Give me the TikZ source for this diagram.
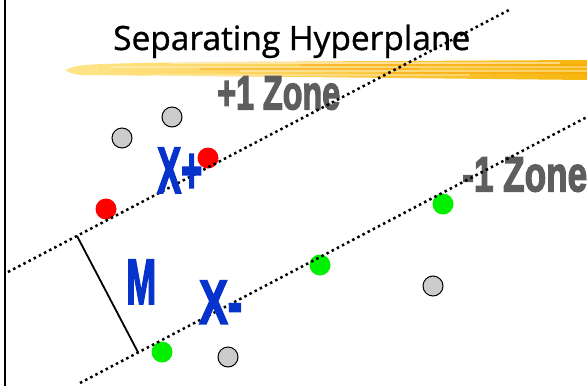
\documentclass[tikz,border=0pt]{standalone}
\usepackage{fontspec}
\setmainfont{Liberation Sans}
\newfontfamily\titlefont[FakeBold=1]{Open Sans}
\newfontfamily\heavyfont[FakeBold=3]{Liberation Sans Bold}
\usepackage{graphicx}
\usetikzlibrary{calc}
\definecolor{svmgray}{HTML}{5E5E5E}
\definecolor{svmblue}{HTML}{0533CC}
\definecolor{svmpt}{HTML}{CCCCCC}
\definecolor{svmred}{HTML}{FF0000}
\definecolor{svmgreen}{HTML}{00F000}
\definecolor{svmhl}{HTML}{F7B60E}
\definecolor{svmhlmid}{HTML}{FFD23C}
\definecolor{svmhllight}{HTML}{FFE58A}

\begin{document}
\begin{tikzpicture}[x=1pt,y=-1pt,line cap=butt,
  basept/.style={circle,inner sep=0pt,minimum size=21pt},
  greypt/.style={basept,draw=black,line width=1pt,fill=svmpt,minimum size=20pt},
  pospt/.style={basept,fill=svmred},
  negpt/.style={basept,fill=svmgreen},
  marginline/.style={line width=2.5pt,dash pattern=on 2.5pt off 3.3pt},
  zone/.style={inner sep=0pt,anchor=south west,text=svmgray,font=\heavyfont},
  tag/.style={inner sep=0pt,anchor=south west,text=svmblue,font=\heavyfont}]
\useasboundingbox (0,0) rectangle (587,386);
\fill[white] (0,0) rectangle (587,386);
\draw[line width=2.6pt] (5,0) -- (5,386);
% highlighter stroke under the title
\shade[left color=svmhllight,middle color=svmhlmid,right color=svmhl] (65,70) .. controls (80,64) .. (200,62) -- (587,60)
  -- (587,80) -- (300,77) -- (80,75) .. controls (70,73) .. (65,70) -- cycle;
\foreach \y/\a/\b/\o in {63/170/560/.45,67/110/587/.3,71/240/587/.35,75/150/470/.3}
  \draw[white,opacity=\o,line width=1.2pt] (\a,\y) -- (\b,\y);
\foreach \y/\a/\b in {65/300/587,73/380/587,69/200/420}
  \draw[orange!80!yellow,opacity=.35,line width=1.5pt] (\a,\y) -- (\b,\y);
\node[anchor=base west,inner sep=0pt] (title) at (113,50) {\resizebox{357pt}{!}{\titlefont Separating Hyperplane}};
\node[zone] (plus zone) at (217,110) {\resizebox{123pt}{33pt}{+1 Zone}};
\node[zone] (minus zone) at (462,192) {\resizebox{125pt}{34pt}{-1 Zone}};
% points
\node[greypt] (g1) at (172,117) {};
\node[greypt] (g2) at (122,138) {};
\node[greypt] (g3) at (228,357) {};
\node[greypt] (g4) at (433,286) {};
\node[pospt] (r1) at (208,158) {};
\node[pospt] (r2) at (106,209) {};
\node[negpt] (n1) at (162,352) {};
\node[negpt] (n2) at (320,265) {};
\node[negpt] (n3) at (443,204) {};
% margins
\coordinate (up-a) at (8,272);
\coordinate (up-b) at (509,10);
\coordinate (lo-a) at (80,383);
\coordinate (lo-b) at (587,117);
\coordinate (m-a) at ($(up-a)!0.1377!(up-b)$);
\coordinate (m-b) at ($(lo-a)!(m-a)!(lo-b)$);
\draw[marginline] (up-a) -- (up-b);
\draw[marginline] (lo-a) -- (lo-b);
\draw[line width=1.8pt] (m-a) -- (m-b);
\node[tag] (xplus) at (157,193) {\resizebox{45pt}{45pt}{X+}};
\node[tag] (mlabel) at (126,304) {\resizebox{30pt}{44pt}{M}};
\node[tag] (xminus) at (199,324) {\resizebox{43pt}{43pt}{X-}};
\end{tikzpicture}
\end{document}
